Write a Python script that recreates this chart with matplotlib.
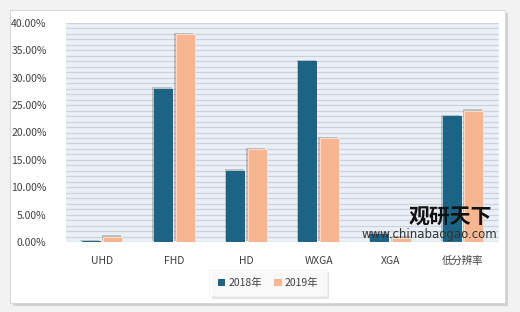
import matplotlib
matplotlib.use('Agg')
import matplotlib.pyplot as plt
import matplotlib.patheffects as pe
from matplotlib.patches import FancyBboxPatch
import numpy as np

plt.rcParams['font.family'] = ['Noto Sans CJK SC', 'DejaVu Sans']

# 数据
categories = ['UHD', 'FHD', 'HD', 'WXGA', 'XGA', '低分辨率']
v2018 = [0.2, 28, 13, 33, 1.5, 23]
v2019 = [1.0, 38, 17, 19, 0.8, 24]
series_names = ['2018年', '2019年']

c2018 = '#1b6485'
c2019 = '#f8b690'

fig = plt.figure(figsize=(5.2, 3.12), dpi=100)
fig.patch.set_facecolor('#f2f2f2')

# card
card = FancyBboxPatch((10 / 520, 9 / 312), 495 / 520, 293 / 312,
                      boxstyle='square,pad=0', transform=fig.transFigure,
                      facecolor='white', edgecolor='#d8d8d8', lw=0.8, zorder=-10,
                      path_effects=[pe.SimplePatchShadow(offset=(2, -2), shadow_rgbFace='#bbbbbb', alpha=0.6), pe.Normal()])
fig.patches.append(card)

ax = fig.add_axes([66 / 520, 1 - 242 / 312, 433 / 520, 219 / 312])
ax.set_facecolor('#eaf0f6')

x = np.arange(len(categories))
w = 0.265
shadow = [pe.SimplePatchShadow(offset=(-1, 1), shadow_rgbFace='#555555', alpha=0.3), pe.Normal()]
b1 = ax.bar(x - 0.15, v2018, w, color=c2018, zorder=3, label=series_names[0], path_effects=shadow)
b2 = ax.bar(x + 0.15, v2019, w, color=c2019, zorder=3, label=series_names[1],
            edgecolor='#fde3d3', lw=0.6, path_effects=shadow)

ax.set_xlim(-0.5, len(categories) - 0.5)
ax.set_ylim(0, 40)
ax.set_yticks(np.arange(0, 41, 5))
ax.set_yticklabels(['%.2f%%' % t for t in np.arange(0, 41, 5)])
ax.set_yticks(np.arange(0, 41, 1), minor=True)
ax.yaxis.grid(True, which='both', color='#cbd3db', lw=0.9, zorder=0)
ax.set_axisbelow(True)
ax.set_xticks(x)
ax.set_xticklabels(categories)
ax.tick_params(axis='both', which='both', length=0, labelsize=7.5, colors='#404040')
ax.tick_params(axis='y', pad=14)
ax.tick_params(axis='x', pad=10)
for s in ax.spines.values():
    s.set_visible(False)
ax.axhline(0, color='#bfbfbf', lw=0.8, zorder=4)

# watermark
ax.text(0.887, 0.114, '观研天下', transform=ax.transAxes, fontsize=15, fontweight='bold',
        color='#111111', ha='center', va='center', zorder=6)
ax.text(0.84, 0.032, 'www.chinabaogao.com', transform=ax.transAxes, fontsize=8.5,
        color='#333333', ha='center', va='center', zorder=6, family='DejaVu Sans')

leg = fig.legend(handles=[b1, b2], loc='center', bbox_to_anchor=(268 / 520, 1 - 283 / 312),
                 ncol=2, frameon=True, fontsize=7.5, handlelength=0.7, handleheight=0.7,
                 columnspacing=1.2, handletextpad=0.3, borderpad=0.6)
leg.get_frame().set_edgecolor('#eeeeee')
leg.get_frame().set_linewidth(0.5)
leg.get_frame().set_boxstyle('square,pad=0.2')
leg.get_frame().set_path_effects([pe.SimplePatchShadow(offset=(2, -2), shadow_rgbFace='#cccccc', alpha=0.5), pe.Normal()])
for t in leg.get_texts():
    t.set_color('#404040')
for p in leg.legend_handles:
    p.set_path_effects([])
    p.set_edgecolor('none')

fig.savefig('out.png', dpi=100, facecolor=fig.get_facecolor())
